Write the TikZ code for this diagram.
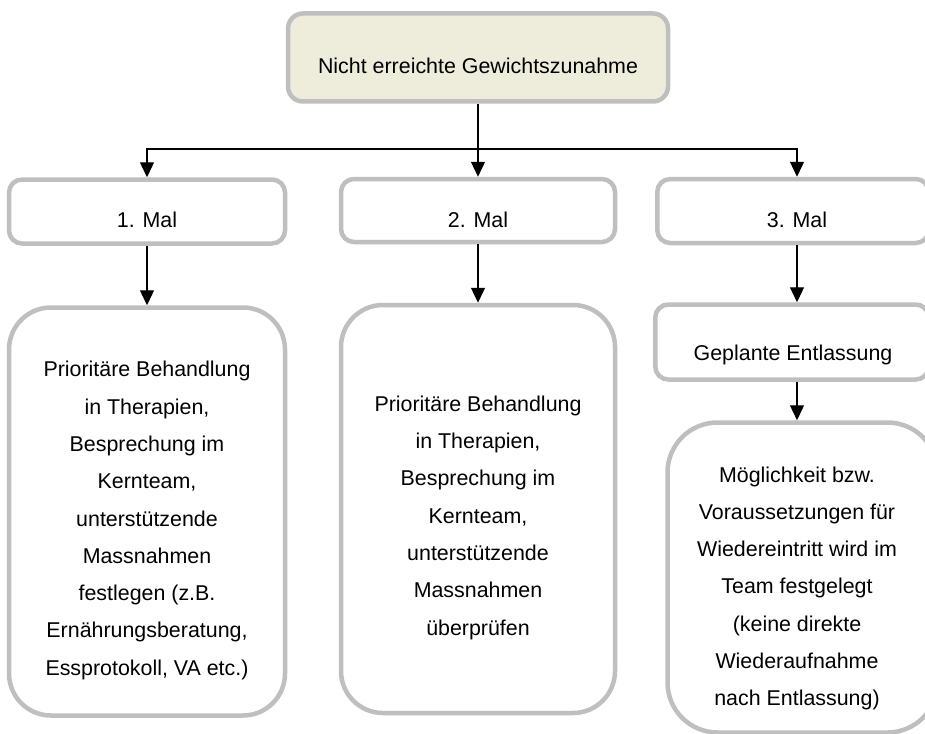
\documentclass[tikz,border=0pt]{standalone}
\usepackage{fontspec}
\setmainfont{Liberation Sans}
\usetikzlibrary{arrows.meta}
\definecolor{bordergray}{HTML}{BFBFBF}
\definecolor{tanfill}{HTML}{EEEDDC}
\begin{document}
\begin{tikzpicture}[x=1pt,y=-1pt,
  box/.style={draw=bordergray, line width=4.5pt, rectangle, fill=white, inner sep=0pt},
  smallbox/.style={box, rounded corners=13pt},
  bigbox/.style={box, rounded corners=42pt},
  lbl/.style={font=\fontsize{21.4}{37.3}\selectfont, align=center, inner sep=0pt},
  ln/.style={line width=1.3pt},
  arr/.style={ln, -{Triangle[width=14pt,length=15pt]}}]
\useasboundingbox (0,0) rectangle (925,733);
\clip (0,0) rectangle (925,733);

% boxes
\node[smallbox, rounded corners=15pt, fill=tanfill, minimum width=380pt, minimum height=88pt] (top) at (478,57.5) {};
\node[smallbox, minimum width=276pt, minimum height=64pt] (b1) at (147,211.5) {};
\node[smallbox, minimum width=274pt, minimum height=63pt] (b2) at (478,210.5) {};
\node[smallbox, minimum width=271.5pt, minimum height=64pt] (b3) at (793,211) {};
\node[bigbox, minimum width=276pt, minimum height=408pt] (p1) at (147,511.5) {};
\node[bigbox, minimum width=274pt, minimum height=408pt] (p2) at (478,509) {};
\node[smallbox, minimum width=273.5pt, minimum height=75pt] (g3) at (792,342) {};
\node[bigbox, rounded corners=50pt, minimum width=270pt, minimum height=310pt] (p3) at (802.5,577.5) {};

% texts
\node[lbl, anchor=base] (ttop) at (478,74) {Nicht erreichte Gewichtszunahme};
\node[lbl, anchor=base] (tb1) at (147,227) {1. Mal};
\node[lbl, anchor=base] (tb2) at (478,227) {2. Mal};
\node[lbl, anchor=base] (tb3) at (797,227) {3. Mal};
\node[lbl, anchor=base] (tg3) at (793,360) {Geplante Entlassung};
\node[lbl] (tp1) at (147,520.5) {Prioritäre Behandlung\\in Therapien,\\Besprechung im\\Kernteam,\\unterstützende\\Massnahmen\\festlegen (z.B.\\Ernährungsberatung,\\Essprotokoll, VA etc.)};
\node[lbl] (tp2) at (478,517.7) {Prioritäre Behandlung\\in Therapien,\\Besprechung im\\Kernteam,\\unterstützende\\Massnahmen\\überprüfen};
\node[lbl] (tp3) at (797,588.4) {Möglichkeit bzw.\\Voraussetzungen für\\Wiedereintritt wird im\\Team festgelegt\\(keine direkte\\Wiederaufnahme\\nach Entlassung)};

% connectors
\coordinate (hub) at (478,149);
\coordinate (col3) at (797,0);
\draw[ln] (top.south) -- (hub);
\draw[arr] (hub) -| (b1.north);
\draw[arr] (hub) -- (b2.north);
\draw[arr] (hub) -| (b3.north -| col3);
\draw[arr] (b1.south) -- (p1.north);
\draw[arr] (b2.south) -- (p2.north);
\draw[arr] (b3.south -| col3) -- (g3.north -| col3);
\draw[arr] (g3.south -| col3) -- (p3.north -| col3);
\end{tikzpicture}
\end{document}
